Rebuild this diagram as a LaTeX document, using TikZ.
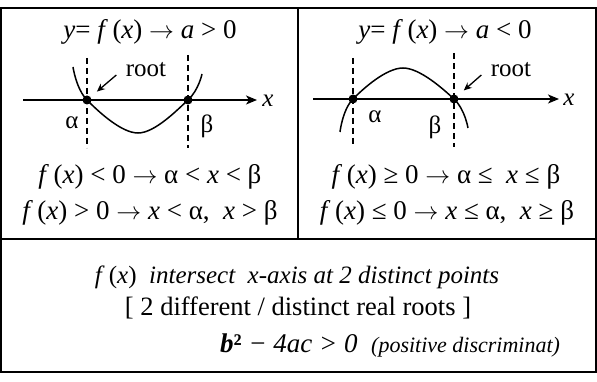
\documentclass[tikz,border=0pt]{standalone}
\usepackage{fontspec}
\setmainfont{Liberation Serif}
\usetikzlibrary{arrows.meta}

\tikzset{
  frame/.style={line width=1.6pt},
  axis/.style={line width=1.8pt, -{Stealth[length=11pt,width=9pt,inset=3pt]}},
  curve/.style={line width=1.5pt},
  guide/.style={line width=1.3pt, dash pattern=on 6pt off 4pt},
  rootdot/.style={circle, fill, inner sep=0pt, minimum size=9pt},
  pointer/.style={line width=1.3pt, -{Stealth[length=8pt,width=7pt]}, shorten >=13pt},
  lbl/.style={font=\fontsize{25}{27}\selectfont},
  eq/.style={font=\fontsize{27}{30}\selectfont, inner sep=0pt},
  note/.style={font=\fontsize{25}{28}\selectfont, inner sep=0pt}
}
\newcommand{\fofx}{\textit{f}\,(\textit{x})}
\newcommand{\xv}{\textit{x}}
\newcommand{\imp}{$\rightarrow$}

\begin{document}
\begin{tikzpicture}[x=1pt,y=-1pt]
    \useasboundingbox (0,0) rectangle (597,382);

    % Frames
    \draw[frame] (1,8) rectangle (596,372);
    \draw[frame] (298,8) -- (298,239);
    \draw[frame] (1,239) -- (596,239);

    % Left graph (a > 0)
    \node[eq] (ttlL) at (150,32) {\textit{y}= \fofx{}\ \imp{} \textit{a} > 0};
    \coordinate (axLs) at (23,100);
    \coordinate (axLe) at (257,100);
    \coordinate (aL) at (87,100);
    \coordinate (bL) at (188,100);
    \draw[guide] (87,58) -- (87,148);
    \draw[guide] (188,55) -- (188,148);
    \draw[axis] (axLs) -- (axLe);
    \node[lbl] (xL) at (268,101) {\xv};
    \draw[curve] plot[smooth, tension=0.6] coordinates {(73,67) (87,100) (138,133) (188,100) (202,74)};
    \node[rootdot] (dotaL) at (aL) {};
    \node[rootdot] (dotbL) at (bL) {};
    \node[lbl] (rtL) at (146,70) {root};
    \draw[pointer] ([xshift=-6pt,yshift=-5pt]rtL.west) -- (aL);
    \node[lbl] (alL) at (72,123) {α};
    \node[lbl] (beL) at (207,126) {β};
    \node[eq] (eqL1) at (150,177) {\fofx{} < 0 \imp{} α < \xv{} < β};
    \node[eq] (eqL2) at (150,213) {\fofx{} > 0 \imp{} \xv{} < α, \ \xv{} > β};

    % Right graph (a < 0)
    \node[eq] (ttlR) at (445,32) {\textit{y}= \fofx{}\ \imp{} \textit{a} < 0};
    \coordinate (axRs) at (313,99);
    \coordinate (axRe) at (559,99);
    \coordinate (aR) at (353,99);
    \coordinate (bR) at (454,99);
    \draw[guide] (353,58) -- (353,147);
    \draw[guide] (454,53) -- (454,147);
    \draw[axis] (axRs) -- (axRe);
    \node[lbl] (xR) at (569,100) {\xv};
    \draw[curve] plot[smooth, tension=0.6] coordinates {(340,132) (353,99) (403,68) (454,99) (468,128)};
    \node[rootdot] (dotaR) at (aR) {};
    \node[rootdot] (dotbR) at (bR) {};
    \node[lbl] (rtR) at (511,70) {root};
    \draw[pointer] ([xshift=-6pt,yshift=-5pt]rtR.west) -- (bR);
    \node[lbl] (alR) at (375,117) {α};
    \node[lbl] (beR) at (435,127) {β};
    \node[eq] (eqR1) at (446,177) {\fofx{} ≥ 0 \imp{} α ≤ \ \xv{} ≤ β};
    \node[eq] (eqR2) at (447,213) {\fofx{} ≤ 0 \imp{} \xv{} ≤ α, \ \xv{} ≥ β};

    % Discriminant note
    \node[note] (nt1) at (297,277) {\fofx{}\ \ \textit{intersect \ x-axis at 2 distinct points}};
    \node[note, font=\fontsize{26.5}{29}\selectfont] (nt2) at (298,308) {[ 2 different / distinct real roots ]};
    \node[note, anchor=west, font=\fontsize{27}{30}\selectfont] (nt3) at (220,345) {\textbf{\textit{b}²} \textit{− 4ac > 0}\ \ {\fontsize{22}{24}\selectfont\textit{(positive discriminat)}}};
\end{tikzpicture}
\end{document}
